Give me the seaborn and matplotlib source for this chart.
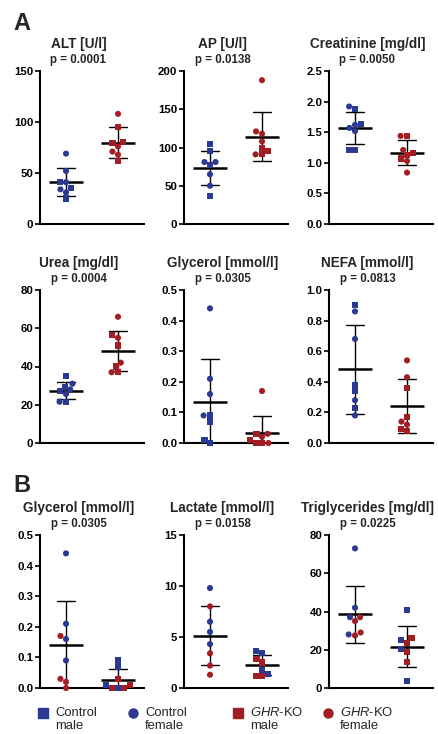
import numpy as np
import pandas as pd
import matplotlib
matplotlib.use("Agg")
import matplotlib.pyplot as plt
import seaborn as sns
from matplotlib.markers import MarkerStyle
from matplotlib.lines import Line2D

BLUE = "#2B3990"
RED = "#A31E24"

# Panel A: control male, control female, GHR-KO male, GHR-KO female
alt_cm = [41, 35, 25]
alt_cf = [69, 52, 41, 34, 31]
alt_km = [95, 80, 79, 62]
alt_kf = [108, 76, 71, 68]

ap_cm = [104, 95, 77, 37]
ap_cf = [81, 81, 65, 50]
ap_km = [99, 95, 91]
ap_kf = [188, 121, 118, 108, 91]

crea_cm = [1.88, 1.64, 1.21, 1.21]
crea_cf = [1.92, 1.62, 1.57, 1.52]
crea_km = [1.44, 1.16, 1.13, 1.07]
crea_kf = [1.44, 1.21, 1.03, 0.84]

urea_cm = [35, 29.5, 27, 21.6]
urea_cf = [31, 28, 25.6, 21.6]
urea_km = [56.5, 51, 40, 37]
urea_kf = [66, 55, 42, 37]

glyc_cm = [0.09, 0.07, 0.01, 0.0]
glyc_cf = [0.44, 0.21, 0.16, 0.09]
glyc_km = [0.03, 0.01, 0.0, 0.0]
glyc_kf = [0.17, 0.03, 0.02, 0.0]

nefa_cm = [0.90, 0.38, 0.34, 0.23]
nefa_cf = [0.86, 0.68, 0.28, 0.18]
nefa_km = [0.36, 0.17, 0.09, 0.08]
nefa_kf = [0.54, 0.43, 0.14, 0.12]

# Panel B (grouped by sex)
lact_cm = [3.6, 3.4, 1.8, 1.4]
lact_cf = [9.8, 6.5, 5.5, 4.3]
lact_km = [2.8, 2.5, 1.2, 1.2]
lact_kf = [8.0, 3.4, 2.2, 1.3]

tg_cm = [41, 25, 20.5, 3.7]
tg_cf = [73, 42, 37, 28]
tg_km = [26, 23.7, 19, 13.7]
tg_kf = [37, 35, 29, 27.5]

W, H = 438, 734

sns.set_style("ticks")
plt.rcParams["font.family"] = ["Liberation Sans", "DejaVu Sans"]
plt.rcParams["mathtext.fontset"] = "custom"
plt.rcParams["mathtext.it"] = "Liberation Sans:italic"
plt.rcParams["mathtext.rm"] = "Liberation Sans"

sq = MarkerStyle("s")
SQUARE = sq.get_path().transformed(sq.get_transform())
ci = MarkerStyle("o")
CIRCLE = ci.get_path().transformed(ci.get_transform())


def make_df(cm, cf, km, kf):
    rows = []
    for vals, geno, sex in [(cm, "Control", "male"), (cf, "Control", "female"),
                            (km, "GHR-KO", "male"), (kf, "GHR-KO", "female")]:
        rows += [(geno, sex, v) for v in vals]
    return pd.DataFrame(rows, columns=["genotype", "sex", "value"])


def draw_panel(ax, df, xcol, order, title, pval, ymax, step, fmt):
    sns.swarmplot(data=df, x=xcol, y="value", order=order, hue="genotype",
                  hue_order=["Control", "GHR-KO"], palette=[BLUE, RED],
                  size=4.4, linewidth=0, legend=False, warn_thresh=1, ax=ax)
    # squares for males, circles for females
    for coll, cat in zip(ax.collections, order):
        sexes = df.loc[df[xcol] == cat, "sex"]
        coll.set_paths([SQUARE if s == "male" else CIRCLE for s in sexes])
        coll.set_clip_on(False)
    # mean +/- SD
    sns.pointplot(data=df, x=xcol, y="value", order=order, errorbar="sd",
                  color="black", markers="_", linestyles="none",
                  markersize=25, markeredgewidth=1.8, capsize=0.36,
                  err_kws={"linewidth": 1.0}, ax=ax)
    ax.set_ylim(0, ymax)
    ticks = np.arange(0, ymax + step / 2, step)
    ax.set_yticks(ticks)
    ax.set_yticklabels([fmt.format(t) for t in ticks], fontweight="bold")
    ax.set_xlim(-0.5, 1.5)
    ax.set_xticks([])
    ax.set_xlabel("")
    ax.set_ylabel("")
    sns.despine(ax=ax)
    for s in ["left", "bottom"]:
        ax.spines[s].set_linewidth(1.5)
        ax.spines[s].set_color("black")
    ax.tick_params(axis="y", length=3.8, width=1.2, labelsize=8.2, pad=1,
                   colors="black")
    ax.text(0.37, 1 + 27 / 153, title, transform=ax.transAxes, ha="center",
            va="center", fontsize=9.8, fontweight="bold")
    ax.text(0.37, 1 + 11 / 153, "p = " + pval, transform=ax.transAxes,
            ha="center", va="center", fontsize=8.3, fontweight="bold")


fig = plt.figure(figsize=(W / 100, H / 100), dpi=100)


def add_ax(left, top):
    return fig.add_axes([left / W, 1 - (top + 153) / H, 104 / W, 153 / H])


lefts = [40, 184, 329]
geno_order = ["Control", "GHR-KO"]
sex_order = ["female", "male"]

panels_a = [
    ("ALT [U/l]", "0.0001", (alt_cm, alt_cf, alt_km, alt_kf), 150, 50, "{:.0f}"),
    ("AP [U/l]", "0.0138", (ap_cm, ap_cf, ap_km, ap_kf), 200, 50, "{:.0f}"),
    ("Creatinine [mg/dl]", "0.0050", (crea_cm, crea_cf, crea_km, crea_kf), 2.5, 0.5, "{:.1f}"),
    ("Urea [mg/dl]", "0.0004", (urea_cm, urea_cf, urea_km, urea_kf), 80, 20, "{:.0f}"),
    ("Glycerol [mmol/l]", "0.0305", (glyc_cm, glyc_cf, glyc_km, glyc_kf), 0.5, 0.1, "{:.1f}"),
    ("NEFA [mmol/l]", "0.0813", (nefa_cm, nefa_cf, nefa_km, nefa_kf), 1.0, 0.2, "{:.1f}"),
]
for i, (title, p, arrs, ymax, step, fmt) in enumerate(panels_a):
    top = 71 if i < 3 else 290
    ax = add_ax(lefts[i % 3], top)
    draw_panel(ax, make_df(*arrs), "genotype", geno_order, title, p, ymax, step, fmt)

panels_b = [
    ("Glycerol [mmol/l]", "0.0305", (glyc_cm, glyc_cf, glyc_km, glyc_kf), 0.5, 0.1, "{:.1f}"),
    ("Lactate [mmol/l]", "0.0158", (lact_cm, lact_cf, lact_km, lact_kf), 15, 5, "{:.0f}"),
    ("Triglycerides [mg/dl]", "0.0225", (tg_cm, tg_cf, tg_km, tg_kf), 80, 20, "{:.0f}"),
]
for i, (title, p, arrs, ymax, step, fmt) in enumerate(panels_b):
    ax = add_ax(lefts[i], 535)
    draw_panel(ax, make_df(*arrs), "sex", sex_order, title, p, ymax, step, fmt)

fig.text(13 / W, 1 - 23 / H, "A", fontsize=17, fontweight="bold", va="center")
fig.text(13 / W, 1 - 486 / H, "B", fontsize=17, fontweight="bold", va="center")

# legend
legend_items = [
    (43, "s", BLUE, "Control", "male"),
    (133, "o", BLUE, "Control", "female"),
    (238, "s", RED, r"$\mathit{GHR}$-KO", "male"),
    (328, "o", RED, r"$\mathit{GHR}$-KO", "female"),
]
for x, m, c, l1, l2 in legend_items:
    fig.add_artist(Line2D([x / W], [1 - 713 / H], transform=fig.transFigure,
                          marker=m, markersize=6.5, color=c, linestyle="none"))
    fig.text((x + 12) / W, 1 - 713 / H, l1, fontsize=9.4, va="center")
    fig.text((x + 12) / W, 1 - 726 / H, l2, fontsize=9.4, va="center")

fig.savefig("out.png", dpi=100)
